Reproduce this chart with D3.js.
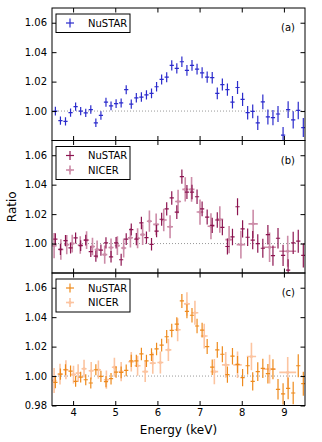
<!DOCTYPE html>
<html>
<head>
<meta charset="utf-8">
<script src="https://cdn.jsdelivr.net/npm/d3@7"></script>
<style>
	body { margin: 0; background: #fff; }
	text { font-family: "DejaVu Sans", sans-serif; fill: #000; }
</style>
</head>
<body>
<svg id="chart"></svg>
<script>
// Axis ticks
const xTicks = [4, 5, 6, 7, 8, 9];
const yTicksUpper = [1.00, 1.02, 1.04, 1.06];
const yTicksLower = [0.98, 1.00, 1.02, 1.04, 1.06];

// NuSTAR energy grid (keV), same for every panel
const nuEnergy = [3.58, 3.70, 3.82, 3.94, 4.06, 4.18, 4.30, 4.42, 4.54, 4.66,
	4.78, 4.90, 5.02, 5.14, 5.26, 5.38, 5.50, 5.62, 5.74, 5.86,
	5.98, 6.10, 6.22, 6.34, 6.46, 6.58, 6.70, 6.82, 6.94, 7.06,
	7.18, 7.30, 7.42, 7.54, 7.66, 7.78, 7.90, 8.02, 8.14, 8.26,
	8.38, 8.50, 8.62, 8.74, 8.86, 8.98, 9.10, 9.22, 9.34, 9.46];
const nuHalfBin = 0.05;

// Panel (a)
const ratioA = [1.000, 0.9935, 0.993, 0.999, 1.003, 1.000, 0.9987, 1.001, 0.992, 0.997,
	1.006, 1.0035, 1.005, 1.0055, 1.0145, 1.0047, 1.009, 1.0095, 1.011, 1.012,
	1.0165, 1.0215, 1.023, 1.031, 1.029, 1.0335, 1.0276, 1.031, 1.0285, 1.026,
	1.023, 1.0227, 1.012, 1.018, 1.0146, 1.006, 1.016, 1.008, 0.9989, 0.9998,
	0.992, 1.0063, 0.996, 0.9955, 0.998, 0.9836, 1.001, 0.994, 1.0004, 0.9888];
const errA = [0.0030, 0.0028, 0.0028, 0.0028, 0.0028, 0.0028, 0.0028, 0.0029, 0.0029, 0.0029,
	0.0030, 0.0030, 0.0030, 0.0031, 0.0031, 0.0031, 0.0032, 0.0032, 0.0032, 0.0033,
	0.0033, 0.0034, 0.0034, 0.0035, 0.0035, 0.0036, 0.0036, 0.0037, 0.0037, 0.0038,
	0.0038, 0.0039, 0.0040, 0.0041, 0.0042, 0.0043, 0.0044, 0.0045, 0.0046, 0.0047,
	0.0048, 0.0050, 0.0051, 0.0052, 0.0054, 0.0055, 0.0057, 0.0058, 0.0060, 0.0065];

// Panel (b)
const ratioB = [1.003, 0.996, 1.002, 0.997, 1.0038, 0.9986, 1.0023, 0.9945, 0.9915, 0.9955,
	1.0005, 0.991, 1.0005, 0.989, 1.003, 1.0095, 1.003, 1.014, 1.004, 0.9995,
	1.0085, 1.0165, 1.0236, 1.031, 1.0214, 1.0455, 1.035, 1.035, 1.0318, 1.0236,
	1.018, 1.0123, 1.016, 1.011, 0.998, 1.0045, 1.025, 1.010, 1.0043, 1.0023,
	1.000, 0.9968, 1.006, 0.9918, 1.0036, 0.992, 0.982, 1.0005, 1.0016, 0.992];
const errB = [0.0040, 0.0038, 0.0038, 0.0038, 0.0037, 0.0037, 0.0037, 0.0037, 0.0038, 0.0038,
	0.0038, 0.0039, 0.0039, 0.0040, 0.0040, 0.0041, 0.0041, 0.0042, 0.0042, 0.0043,
	0.0043, 0.0044, 0.0045, 0.0046, 0.0047, 0.0048, 0.0048, 0.0049, 0.0050, 0.0050,
	0.0051, 0.0052, 0.0053, 0.0054, 0.0055, 0.0056, 0.0058, 0.0059, 0.0060, 0.0062,
	0.0063, 0.0065, 0.0066, 0.0068, 0.0070, 0.0072, 0.0074, 0.0076, 0.0078, 0.0082];
const nicerEnergyB = [3.55, 3.71, 3.85, 3.98, 4.17, 4.32, 4.46, 4.57, 4.75, 4.90,
	5.05, 5.20, 5.36, 5.53, 5.65, 5.81, 5.97, 6.15, 6.30, 6.49,
	6.66, 6.81, 7.01, 7.27, 7.48, 7.70, 7.98, 8.27, 8.66, 9.09];
const nicerHalfBinB = [0.06, 0.06, 0.06, 0.06, 0.06, 0.06, 0.06, 0.06, 0.06, 0.06,
	0.06, 0.06, 0.06, 0.06, 0.06, 0.06, 0.07, 0.07, 0.07, 0.07,
	0.07, 0.07, 0.08, 0.08, 0.08, 0.09, 0.10, 0.11, 0.15, 0.20];
const nicerRatioB = [0.9986, 0.996, 0.9993, 1.000, 0.999, 1.0023, 0.998, 0.996, 0.9925, 0.9973,
	0.9986, 0.997, 1.0039, 1.0036, 1.0061, 1.0152, 1.013, 1.016, 1.0114, 1.0286,
	1.0368, 1.0368, 1.0214, 1.0118, 1.0164, 1.0027, 0.9993, 1.0134, 0.9975, 0.9948];
const nicerErrB = [0.0085, 0.0070, 0.0065, 0.0060, 0.0060, 0.0060, 0.0060, 0.0060, 0.0062, 0.0062,
	0.0064, 0.0065, 0.0066, 0.0068, 0.0070, 0.0072, 0.0074, 0.0076, 0.0078, 0.0080,
	0.0082, 0.0084, 0.0086, 0.0088, 0.0090, 0.0092, 0.0094, 0.0096, 0.0100, 0.0105];

// Panel (c)
const ratioC = [0.9957, 1.0013, 1.0043, 1.0034, 0.9964, 0.9993, 0.9975, 0.9953, 1.0043, 0.9998,
	0.9962, 0.9982, 1.0027, 1.0025, 1.0038, 1.0103, 1.0103, 1.015, 1.0103, 1.0146,
	1.0184, 1.021, 1.0267, 1.031, 1.0353, 1.051, 1.044, 1.0413, 1.034, 1.0312,
	1.020, 1.006, 1.0178, 1.0148, 1.001, 1.0135, 1.0079, 0.9989, 1.007, 0.9964,
	1.003, 1.0052, 1.0016, 1.0047, 0.991, 0.9879, 0.9917, 0.9885, 1.007, 0.9948];
const errC = [0.0040, 0.0038, 0.0038, 0.0037, 0.0037, 0.0037, 0.0037, 0.0037, 0.0038, 0.0038,
	0.0038, 0.0039, 0.0039, 0.0040, 0.0040, 0.0041, 0.0041, 0.0042, 0.0042, 0.0043,
	0.0043, 0.0044, 0.0045, 0.0046, 0.0047, 0.0048, 0.0048, 0.0049, 0.0050, 0.0050,
	0.0051, 0.0052, 0.0053, 0.0054, 0.0055, 0.0056, 0.0058, 0.0059, 0.0060, 0.0062,
	0.0063, 0.0065, 0.0066, 0.0068, 0.0070, 0.0072, 0.0074, 0.0076, 0.0078, 0.0082];
const nicerEnergyC = [3.55, 3.69, 3.83, 4.01, 4.12, 4.26, 4.43, 4.60, 4.79, 4.98,
	5.14, 5.38, 5.53, 5.71, 5.89, 6.07, 6.26, 6.48, 6.70, 6.89,
	7.11, 7.35, 7.62, 7.90, 8.23, 8.66, 9.09];
const nicerHalfBinC = [0.06, 0.06, 0.06, 0.06, 0.06, 0.06, 0.06, 0.06, 0.06, 0.06,
	0.06, 0.07, 0.07, 0.07, 0.07, 0.07, 0.07, 0.07, 0.07, 0.08,
	0.08, 0.09, 0.09, 0.10, 0.11, 0.15, 0.20];
const nicerRatioC = [0.997, 1.0013, 1.0043, 1.001, 1.002, 1.005, 1.0036, 1.0043, 0.9975, 1.006,
	1.003, 1.0097, 1.007, 1.003, 1.0088, 1.0092, 1.0178, 1.0315, 1.049, 1.043,
	1.0272, 1.003, 1.0076, 1.0076, 1.0133, 1.0047, 1.0025];
const nicerErrC = [0.0085, 0.0070, 0.0065, 0.0060, 0.0060, 0.0060, 0.0060, 0.0062, 0.0062, 0.0064,
	0.0065, 0.0066, 0.0068, 0.0070, 0.0072, 0.0074, 0.0076, 0.0078, 0.0080, 0.0082,
	0.0084, 0.0086, 0.0088, 0.0090, 0.0094, 0.0098, 0.0104];

/**
 * Chart dimensions
 */
let width = 322;
let height = 442;
let margin = { top: 8, left: 52, right: 17 };
let panelH = 132.5;
let tickLen = 4.5;

let svg = d3.select("#chart")
	.attr("width", width)
	.attr("height", height);

let xScale = d3.scaleLinear()
	.domain([3.5, 9.5])
	.range([margin.left, width - margin.right]);

function pts(ex, ey, ey_err, exErr) {
	return ex.map(function(e, i) {
		return { x: e, y: ey[i], dy: ey_err[i], dx: Array.isArray(exErr) ? exErr[i] : exErr };
	});
}

let panels = [
	{ label: "(a)", yTicks: yTicksUpper, series: [
		{ name: "NuSTAR", color: "#2b2bcc", dot: false, data: pts(nuEnergy, ratioA, errA, nuHalfBin) }
	]},
	{ label: "(b)", yTicks: yTicksUpper, series: [
		{ name: "NuSTAR", color: "#8c1450", dot: false, data: pts(nuEnergy, ratioB, errB, nuHalfBin) },
		{ name: "NICER", color: "#cc8ca8", dot: true, data: pts(nicerEnergyB, nicerRatioB, nicerErrB, nicerHalfBinB) }
	]},
	{ label: "(c)", yTicks: yTicksLower, series: [
		{ name: "NuSTAR", color: "#ee8a1c", dot: false, data: pts(nuEnergy, ratioC, errC, nuHalfBin) },
		{ name: "NICER", color: "#fcc4a0", dot: true, data: pts(nicerEnergyC, nicerRatioC, nicerErrC, nicerHalfBinC) }
	]}
];

panels.forEach(function(p, k) {
	let top = margin.top + k * panelH;
	let yScale = d3.scaleLinear()
		.domain([0.98, 1.07])
		.range([top + panelH, top]);

	let g = svg.append("g").classed("panel", true);

	let clipId = "clip" + k;
	g.append("clipPath").attr("id", clipId)
		.append("rect")
		.attr("x", xScale.range()[0]).attr("y", top)
		.attr("width", xScale.range()[1] - xScale.range()[0]).attr("height", panelH);

	// reference line at ratio = 1
	g.append("line")
		.attr("x1", xScale.range()[0]).attr("x2", xScale.range()[1])
		.attr("y1", yScale(1)).attr("y2", yScale(1))
		.attr("stroke", "#999").attr("stroke-width", 1)
		.attr("stroke-dasharray", "1,2");

	let plot = g.append("g").attr("clip-path", "url(#" + clipId + ")");

	// NICER drawn under NuSTAR
	p.series.slice().reverse().forEach(function(s) {
		let sg = plot.append("g").attr("stroke", s.color).attr("stroke-width", s.dot ? 1.6 : 1.2);
		sg.selectAll(".h").data(s.data).enter().append("line")
			.attr("x1", function(d) { return xScale(d.x - d.dx); })
			.attr("x2", function(d) { return xScale(d.x + d.dx); })
			.attr("y1", function(d) { return yScale(d.y); })
			.attr("y2", function(d) { return yScale(d.y); });
		sg.selectAll(".v").data(s.data).enter().append("line")
			.attr("x1", function(d) { return xScale(d.x); })
			.attr("x2", function(d) { return xScale(d.x); })
			.attr("y1", function(d) { return yScale(d.y - d.dy); })
			.attr("y2", function(d) { return yScale(d.y + d.dy); });
		if (s.dot) {
			sg.selectAll("circle").data(s.data).enter().append("circle")
				.attr("cx", function(d) { return xScale(d.x); })
				.attr("cy", function(d) { return yScale(d.y); })
				.attr("r", 1.6)
				.attr("fill", s.color).attr("stroke", "none");
		}
	});

	// Axes, ticks pointing inwards on all four sides
	let last = k === panels.length - 1;
	let xb = g.append("g").attr("transform", "translate(0," + (top + panelH) + ")")
		.call(d3.axisBottom(xScale).tickValues(xTicks).tickSizeInner(-tickLen).tickSizeOuter(0).tickPadding(3.5)
			.tickFormat(last ? d3.format("d") : ""));
	let xt = g.append("g").attr("transform", "translate(0," + top + ")")
		.call(d3.axisTop(xScale).tickValues(xTicks).tickSizeInner(-tickLen).tickSizeOuter(0).tickFormat(""));
	let yl = g.append("g").attr("transform", "translate(" + xScale.range()[0] + ",0)")
		.call(d3.axisLeft(yScale).tickValues(p.yTicks).tickSizeInner(-tickLen).tickSizeOuter(0).tickPadding(5)
			.tickFormat(d3.format(".2f")));
	let yr = g.append("g").attr("transform", "translate(" + xScale.range()[1] + ",0)")
		.call(d3.axisRight(yScale).tickValues(p.yTicks).tickSizeInner(-tickLen).tickSizeOuter(0).tickFormat(""));

	[xb, xt, yl, yr].forEach(function(a) {
		a.select(".domain").remove();
		a.selectAll("line").attr("stroke", "#000");
		a.selectAll("text").style("font-size", "10px").attr("fill", "#000");
	});

	// frame
	g.append("rect")
		.attr("x", xScale.range()[0]).attr("y", top)
		.attr("width", xScale.range()[1] - xScale.range()[0]).attr("height", panelH)
		.attr("fill", "none").attr("stroke", "#000").attr("stroke-width", 1);

	// panel label
	g.append("text")
		.attr("x", 295).attr("y", top + 23)
		.attr("text-anchor", "end")
		.style("font-size", "10px")
		.text(p.label);

	// legend
	let rowH = 14.5;
	let lg = g.append("g").attr("transform", "translate(56," + (top + 6) + ")");
	lg.append("rect")
		.attr("width", 74).attr("height", 4 + p.series.length * rowH)
		.attr("fill", "#fff").attr("stroke", "#000").attr("stroke-width", 1);
	p.series.forEach(function(s, i) {
		let cy = 9 + i * rowH;
		let mk = lg.append("g").attr("stroke", s.color).attr("stroke-width", s.dot ? 1.6 : 1.2);
		mk.append("line").attr("x1", 10).attr("x2", 18).attr("y1", cy).attr("y2", cy);
		mk.append("line").attr("x1", 14).attr("x2", 14).attr("y1", cy - 4.5).attr("y2", cy + 4.5);
		if (s.dot) {
			mk.append("circle").attr("cx", 14).attr("cy", cy).attr("r", 1.6).attr("fill", s.color).attr("stroke", "none");
		}
		lg.append("text")
			.attr("x", 32).attr("y", cy).attr("dy", "0.35em")
			.style("font-size", "10px")
			.text(s.name);
	});
});

// Axis labels
svg.append("text")
	.attr("x", (xScale.range()[0] + xScale.range()[1]) / 2)
	.attr("y", 434)
	.attr("text-anchor", "middle")
	.style("font-size", "12px")
	.text("Energy (keV)");

svg.append("text")
	.attr("transform", "translate(16," + (margin.top + 1.5 * panelH) + ") rotate(-90)")
	.attr("text-anchor", "middle")
	.style("font-size", "12px")
	.text("Ratio");
</script>
</body>
</html>
